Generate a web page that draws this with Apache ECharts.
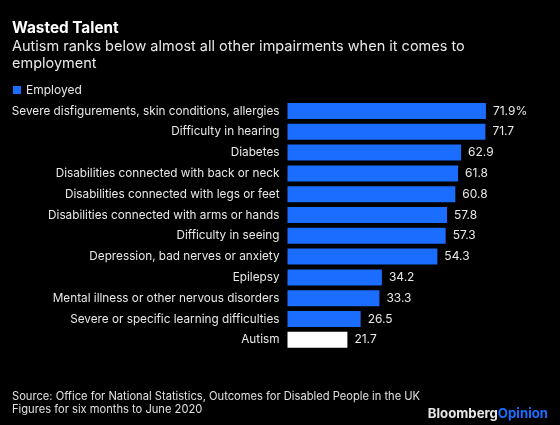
<!DOCTYPE html>
<html>
<head>
<meta charset="utf-8">
<style>
html,body{margin:0;padding:0;background:#000;}
#chart{width:560px;height:425px;}
</style>
<script src="https://cdn.jsdelivr.net/npm/echarts@6/dist/echarts.min.js"></script>
</head>
<body>
<div id="chart"></div>
<script>
const categories = [
  "Severe disfigurements, skin conditions, allergies",
  "Difficulty in hearing",
  "Diabetes",
  "Disabilities connected with back or neck",
  "Disabilities connected with legs or feet",
  "Disabilities connected with arms or hands",
  "Difficulty in seeing",
  "Depression, bad nerves or anxiety",
  "Epilepsy",
  "Mental illness or other nervous disorders",
  "Severe or specific learning difficulties",
  "Autism"
];
const employed = [71.9, 71.7, 62.9, 61.8, 60.8, 57.8, 57.3, 54.3, 34.2, 33.3, 26.5, 21.7];
const highlight = "Autism";

const FONT = "Inter, 'Liberation Sans', Arial, sans-serif";
const BLUE = "#1a6dff";

const chart = echarts.init(document.getElementById('chart'));
chart.setOption({
  backgroundColor: '#000',
  animation: false,
  textStyle: { fontFamily: FONT },
  title: [
    { text: 'Wasted Talent', left: 7, top: 16,
      textStyle: { color: '#fff', fontSize: 15.3, fontWeight: 'bold', fontFamily: FONT } },
    { text: 'Autism ranks below almost all other impairments when it comes to\nemployment', left: 7, top: 32.5,
      textStyle: { color: '#e8e8e8', fontSize: 14.5, fontWeight: 'normal', lineHeight: 17.5, fontFamily: FONT } },
    { text: 'Source: Office for National Statistics, Outcomes for Disabled People in the UK\nFigures for six months to June 2020', left: 7, top: 385,
      textStyle: { color: '#e0e0e0', fontSize: 11.15, fontWeight: 'normal', lineHeight: 13.3, fontFamily: FONT } },
    { text: '{a|Bloomberg}{b|Opinion}', right: 7, top: 402.5,
      textStyle: { rich: {
        a: { color: '#e6e6e6', fontSize: 13.2, fontWeight: 'bold', fontFamily: FONT },
        b: { color: '#1a6dff', fontSize: 13.2, fontWeight: 'bold', fontFamily: FONT }
      } } }
  ],
  legend: {
    left: 8, top: 79, icon: 'rect', itemWidth: 8, itemHeight: 8, itemGap: 10,
    textStyle: { color: '#e8e8e8', fontSize: 12, fontFamily: FONT, padding: [0, 0, 0, 0] },
    data: ['Employed']
  },
  grid: { left: 287.5, right: 51.7, top: 100.6, height: 249.6, containLabel: false },
  xAxis: {
    type: 'value', min: 0, max: 80, show: false
  },
  yAxis: {
    type: 'category', inverse: true, data: categories,
    axisLine: { show: false }, axisTick: { show: false },
    axisLabel: { color: '#e8e8e8', fontSize: 11.75, margin: 8, fontFamily: FONT }
  },
  series: [{
    name: 'Employed', type: 'bar', barWidth: 16,
    itemStyle: { color: BLUE },
    label: {
      show: true, position: 'right', distance: 7, color: '#e8e8e8', fontSize: 12, fontFamily: FONT,
      formatter: p => p.dataIndex === 0 ? p.value + '%' : String(p.value)
    },
    data: employed.map((v, i) => categories[i] === highlight
      ? { value: v, itemStyle: { color: '#ffffff' } } : v)
  }]
});
</script>
</body>
</html>
